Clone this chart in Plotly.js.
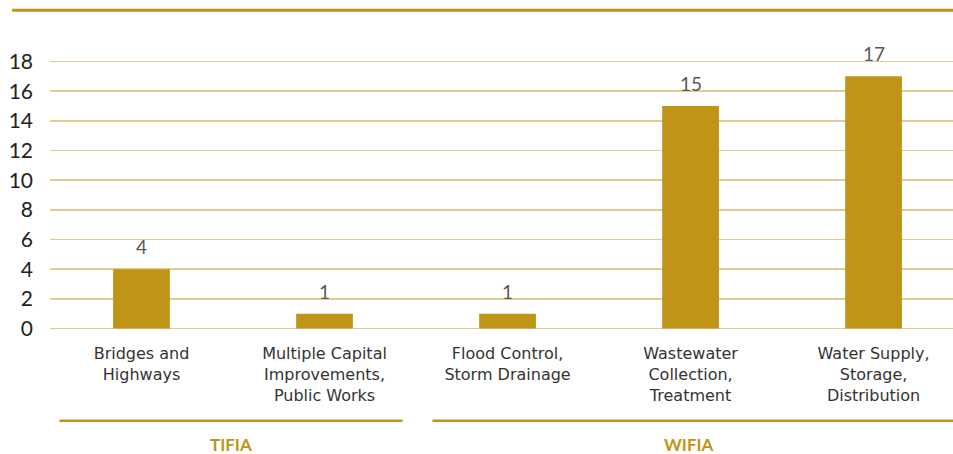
<!DOCTYPE html>
<html>
<head>
<meta charset="utf-8">
<script src="https://cdn.plot.ly/plotly-3.0.1.min.js"></script>
<style>html,body{margin:0;padding:0;background:#fff;}#chart{width:953px;height:454px;}</style>
</head>
<body>
<div id="chart"></div>
<script>
var categories = ["Bridges and<br>Highways", "Multiple Capital<br>Improvements,<br>Public Works", "Flood Control,<br>Storm Drainage", "Wastewater<br>Collection,<br>Treatment", "Water Supply,<br>Storage,<br>Distribution"];
var values = [4, 1, 1, 15, 17];
var groupNames = ["TIFIA", "WIFIA"];
var yTicks = [0, 2, 4, 6, 8, 10, 12, 14, 16, 18];

var gold = "#C09416";
var font = "Lato, 'Noto Sans', sans-serif";
var wideFont = "'DejaVu Sans', sans-serif";

var trace = {
  type: "bar",
  x: categories,
  y: values,
  marker: {color: gold, line: {width: 0}},
  width: 0.31,
  hoverinfo: "x+y"
};

var annotations = values.map(function(v, i) {
  return {x: categories[i], y: v, xref: "x", yref: "y", text: String(v), showarrow: false,
    yanchor: "bottom", yshift: 9, font: {family: font, size: 19, color: "#595959"}};
});
annotations.push({x: 0.49, y: -0.4225, xref: "x", yref: "paper", yanchor: "middle", text: "<b>" + groupNames[0] + "</b>", showarrow: false,
  font: {family: font, size: 17, color: gold}});
annotations.push({x: 2.99, y: -0.4225, xref: "x", yref: "paper", yanchor: "middle", text: "<b>" + groupNames[1] + "</b>", showarrow: false,
  font: {family: font, size: 17, color: gold}});

var layout = {
  width: 953, height: 454,
  margin: {l: 50, r: 0, t: 59.5, b: 123.5},
  paper_bgcolor: "#fff", plot_bgcolor: "#fff",
  showlegend: false,
  xaxis: {
    type: "category",
    range: [-0.5, 4.434],
    showgrid: false, zeroline: false, showline: false,
    ticks: "", ticklen: 0, ticklabelstandoff: 12,
    tickfont: {family: wideFont, size: 16, color: "#333"},
    fixedrange: true
  },
  yaxis: {
    range: [-0.1, 18.1],
    tickvals: yTicks,
    ticktext: yTicks.map(String),
    showgrid: true, gridcolor: "#E2CB90", gridwidth: 1.5,
    zeroline: false, showline: false,
    ticks: "", ticklabelstandoff: 16,
    tickfont: {family: font, size: 21, color: "#222"},
    fixedrange: true
  },
  shapes: [
    {type: "line", xref: "paper", yref: "paper", x0: -0.042, x1: 1, y0: 1.1845, y1: 1.1845, line: {color: gold, width: 3}},
    {type: "line", xref: "x", yref: "paper", x0: -0.448, x1: 1.426, y0: -0.336, y1: -0.336, line: {color: gold, width: 2.5}},
    {type: "line", xref: "x", yref: "paper", x0: 1.59, x1: 4.434, y0: -0.336, y1: -0.336, line: {color: gold, width: 2.5}}
  ],
  annotations: annotations
};

Plotly.newPlot("chart", [trace], layout, {displayModeBar: false, staticPlot: true});
</script>
</body>
</html>
